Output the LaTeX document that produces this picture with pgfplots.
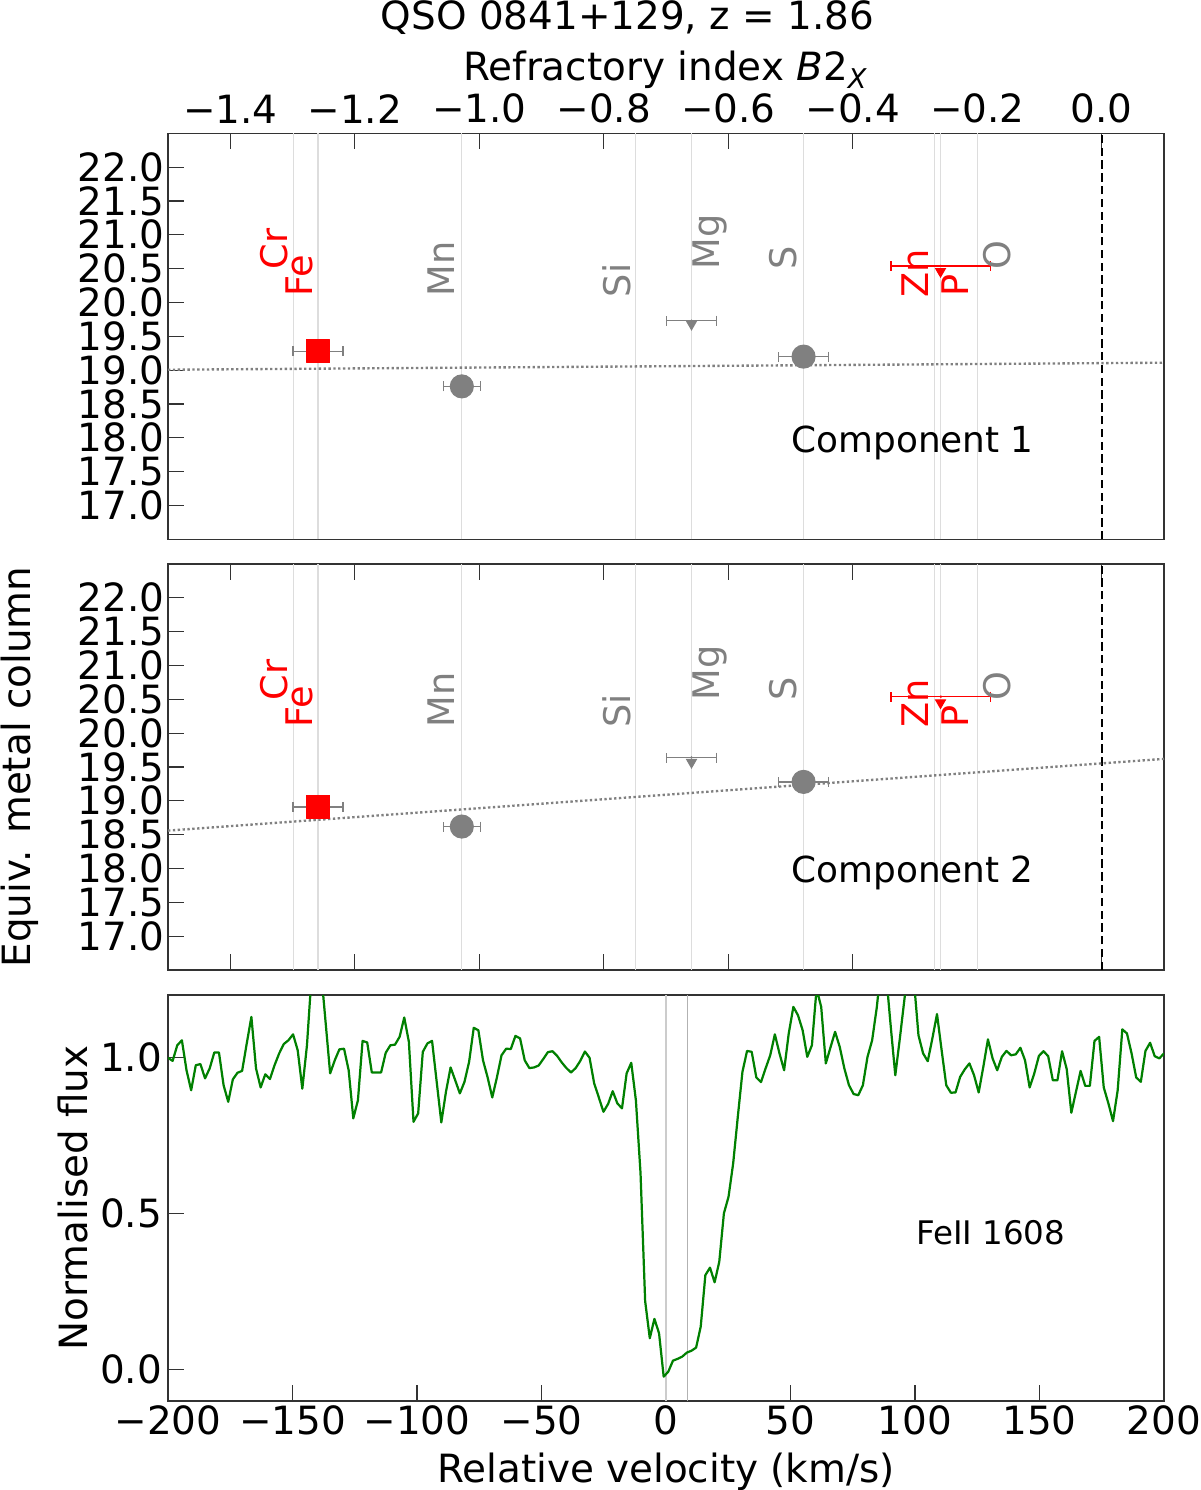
\documentclass[border=0pt]{standalone}
\usepackage{fontspec}
\setmainfont{DejaVu Sans}
\usepackage{pgfplots}
\pgfplotsset{compat=1.18}
\definecolor{mgray}{RGB}{128,128,128}
\definecolor{vlc}{RGB}{221,221,221}
\definecolor{mgreen}{RGB}{0,128,0}
\definecolor{mred}{RGB}{255,0,0}
\newcommand{\tickfont}{\fontsize{14}{16}\selectfont}
\newcommand{\elfont}{\fontsize{13.2}{15}\selectfont}
\pgfplotsset{
  base/.style={
    scale only axis, width=358.56pt, height=146.16pt,
    axis line style={black!80, line width=0.55pt},
    major tick style={black!80, line width=0.45pt},
    major tick length=5.8pt,
    tick align=inside,
    ticklabel style={font=\tickfont},
    label style={font=\tickfont},
    clip=true,
  },
  b2panel/.style={base,
    xmin=-1.5, xmax=0.1, ymin=16.5, ymax=22.5,
    xtick={-1.4,-1.2,-1.0,-0.8,-0.6,-0.4,-0.2,0},
    ytick={17,17.5,18,18.5,19,19.5,20,20.5,21,21.5,22},
    yticklabels={17.0,17.5,18.0,18.5,19.0,19.5,20.0,20.5,21.0,21.5,22.0},
    ytick pos=left,
    yticklabel style={xshift=2.15pt},
  },
  vl/.style={vlc, line width=0.4pt},
  ebg/.style={mgray, only marks, error bars/x dir=both, error bars/x explicit,
     error bars/error mark=|,
     error bars/error bar style={mgray, solid, line width=0.45pt},
     error bars/error mark options={mgray, mark size=1.8pt, line width=0.45pt}},
  ebr/.style={mred, only marks, error bars/x dir=both, error bars/x explicit,
     error bars/error mark=|,
     error bars/error bar style={mred, solid, line width=0.6pt},
     error bars/error mark options={mred, mark size=1.8pt, line width=0.6pt}},
  fit/.style={mgray, line width=0.85pt, dash pattern=on 0.85pt off 0.9pt},
}
\newcommand{\elementlines}{%
  \addplot[vl] coordinates {(-1.299,16.5) (-1.299,22.5)};
  \addplot[vl] coordinates {(-1.259,16.5) (-1.259,22.5)};
  \addplot[vl] coordinates {(-1.028,16.5) (-1.028,22.5)};
  \addplot[vl] coordinates {(-0.749,16.5) (-0.749,22.5)};
  \addplot[vl] coordinates {(-0.659,16.5) (-0.659,22.5)};
  \addplot[vl] coordinates {(-0.479,16.5) (-0.479,22.5)};
  \addplot[vl] coordinates {(-0.269,16.5) (-0.269,22.5)};
  \addplot[vl] coordinates {(-0.259,16.5) (-0.259,22.5)};
  \addplot[vl] coordinates {(-0.199,16.5) (-0.199,22.5)};
  \addplot[black, line width=0.7pt, dash pattern=on 3pt off 1.6pt] coordinates {(0,16.5) (0,22.5)};
}
\newcommand{\ellab}[4]{\node[rotate=90, anchor=base west, inner sep=0pt, text=#1, font=\elfont] at (axis cs:#2,#3) {#4};}
\newcommand{\elementlabels}{%
  \ellab{mred}{-1.3084}{20.48}{Cr}
  \ellab{mred}{-1.2675}{20.08}{Fe}
  \ellab{mgray}{-1.039}{20.08}{Mn}
  \ellab{mgray}{-0.7578}{20.07}{Si}
  \ellab{mgray}{-0.6133}{20.48}{Mg}
  \ellab{mgray}{-0.4896}{20.48}{S}
  \ellab{mred}{-0.2786}{20.07}{Zn}
  \ellab{mred}{-0.2144}{20.08}{P}
  \ellab{mgray}{-0.1458}{20.48}{O}
}
\begin{document}
\begin{tikzpicture}
\path[use as bounding box] (-60.48pt,-32.04pt) rectangle (371.52pt,504.36pt);

\node[anchor=base, font=\tickfont, inner sep=0pt] at (165.42pt,493.56pt) {QSO 0841+129, z = 1.86};

% ---------------- Panel 1 ----------------
\begin{axis}[b2panel, at={(0,310.21pt)},
  xtick pos=right, xticklabel pos=right,
  xticklabels={−1.4,−1.2,−1.0,−0.8,−0.6,−0.4,−0.2,0.0},
  xlabel={Refractory index \textit{B}2\raisebox{-2.9pt}{\fontsize{9.8}{10}\selectfont\textit{X}}},
  xlabel style={at={(axis description cs:0.499,1)}, anchor=base, yshift=19.19pt},
]
\elementlines
\addplot[fit] coordinates {(-1.5,19.006) (0.1,19.11)};
\addplot[ebg, mark=square*, mark size=4.14pt, mark options={fill=mred, draw=mred, line join=round}] coordinates {(-1.259,19.28) +- (0.04,0)};
\addplot[ebg, mark=*, mark size=4.14pt, mark options={fill=mgray, draw=mgray}] coordinates {(-1.028,18.76) +- (0.03,0) (-0.479,19.20) +- (0.04,0)};
\addplot[ebg, mark=*, mark size=0.2pt] coordinates {(-0.659,19.73) +- (0.04,0)};
\addplot[only marks, mark=triangle*, mark size=2.0pt, mark options={rotate=180, fill=mgray, draw=mgray}] coordinates {(-0.659,19.68)};
\addplot[ebr, mark=*, mark size=0.2pt] coordinates {(-0.2585,20.54) +- (0.08,0)};
\addplot[only marks, mark=triangle*, mark size=2.0pt, mark options={rotate=180, fill=mred, draw=mred}] coordinates {(-0.259,20.46)};
\elementlabels
\node[anchor=base, font=\fontsize{12.9}{14}\selectfont] at (axis cs:-0.3037,17.785) {Component 1};
\end{axis}

% ---------------- Panel 2 ----------------
\begin{axis}[b2panel, at={(0,155.16pt)},
  xtick pos=both, xticklabels={},
  ylabel={Equiv. metal column},
  ylabel style={at={(axis description cs:-0.1376,0.5)}, anchor=base},
]
\elementlines
\addplot[fit] coordinates {(-1.5,18.56) (0.1,19.62)};
\addplot[ebg, mark=square*, mark size=4.14pt, mark options={fill=mred, draw=mred, line join=round}] coordinates {(-1.259,18.91) +- (0.04,0)};
\addplot[ebg, mark=*, mark size=4.14pt, mark options={fill=mgray, draw=mgray}] coordinates {(-1.028,18.62) +- (0.03,0) (-0.479,19.28) +- (0.04,0)};
\addplot[ebg, mark=*, mark size=0.2pt] coordinates {(-0.659,19.64) +- (0.04,0)};
\addplot[only marks, mark=triangle*, mark size=2.0pt, mark options={rotate=180, fill=mgray, draw=mgray}] coordinates {(-0.659,19.57)};
\addplot[ebr, mark=*, mark size=0.2pt] coordinates {(-0.2585,20.54) +- (0.08,0)};
\addplot[only marks, mark=triangle*, mark size=2.0pt, mark options={rotate=180, fill=mred, draw=mred}] coordinates {(-0.259,20.45)};
\elementlabels
\node[anchor=base, font=\fontsize{12.9}{14}\selectfont] at (axis cs:-0.3037,17.80) {Component 2};
\end{axis}

% ---------------- Panel 3 ----------------
\begin{axis}[base, at={(0,0)},
  xmin=-200, xmax=200, ymin=-0.1, ymax=1.2,
  xtick={-200,-150,-100,-50,0,50,100,150,200},
  xticklabels={−200,−150,−100,−50,0,50,100,150,200},
  ytick={0,0.5,1}, yticklabels={0.0,0.5,1.0},
  xtick pos=left, ytick pos=left,
  xticklabel style={yshift=1.8pt},
  yticklabel style={xshift=1.35pt},
  xlabel={Relative velocity (km/s)},
  xlabel style={at={(axis description cs:0.5,0)}, anchor=base, yshift=-29.16pt},
  ylabel={Normalised flux},
  ylabel style={at={(axis description cs:-0.0810,0.5)}, anchor=base},
]
\addplot[gray!40, line width=0.4pt] coordinates {(0,-0.1) (0,1.2)};
\addplot[gray!60, line width=0.4pt] coordinates {(8.6,-0.1) (8.6,1.2)};
\addplot[mgreen, line width=0.8pt, line join=round] table {
-200.00 0.999
-198.14 0.989
-196.28 1.039
-194.42 1.055
-192.56 0.959
-190.70 0.895
-188.84 0.975
-186.98 0.979
-185.12 0.933
-183.26 0.965
-181.40 1.016
-179.53 1.016
-177.67 0.911
-175.81 0.858
-173.95 0.930
-172.09 0.951
-170.23 0.957
-168.37 1.045
-166.51 1.130
-164.65 0.965
-162.79 0.904
-160.93 0.946
-159.07 0.931
-157.21 0.975
-155.35 1.013
-153.49 1.043
-151.63 1.055
-149.77 1.074
-147.91 1.023
-146.05 0.900
-144.19 1.039
-142.33 1.263
-140.47 1.350
-138.60 1.283
-136.74 1.116
-134.88 0.949
-133.02 0.991
-131.16 1.026
-129.30 1.028
-127.44 0.959
-125.58 0.805
-123.72 0.863
-121.86 1.053
-120.00 1.048
-118.14 0.952
-116.28 0.952
-114.42 0.952
-112.56 1.015
-110.70 1.039
-108.84 1.041
-106.98 1.066
-105.12 1.128
-103.26 1.050
-101.40 0.794
-99.53 0.821
-97.67 1.018
-95.81 1.045
-93.95 1.053
-92.09 0.922
-90.23 0.792
-88.37 0.890
-86.51 0.968
-84.65 0.927
-82.79 0.885
-80.93 0.922
-79.07 0.986
-77.21 1.095
-75.35 1.087
-73.49 0.991
-71.63 0.936
-69.77 0.872
-67.91 0.936
-66.05 1.007
-64.19 1.028
-62.33 1.027
-60.47 1.069
-58.60 1.061
-56.74 0.991
-54.88 0.966
-53.02 0.968
-51.16 0.974
-49.30 0.995
-47.44 1.017
-45.58 1.020
-43.72 1.005
-41.86 0.984
-40.00 0.966
-38.14 0.952
-36.28 0.966
-34.42 0.989
-32.56 1.019
-30.70 0.999
-28.84 0.917
-26.98 0.872
-25.12 0.826
-23.26 0.851
-21.40 0.892
-19.53 0.853
-17.67 0.837
-15.81 0.949
-13.95 0.983
-12.09 0.863
-10.23 0.630
-8.37 0.220
-6.51 0.101
-4.65 0.163
-2.79 0.117
-0.93 -0.022
0.93 -0.006
2.79 0.029
4.65 0.035
6.51 0.042
8.37 0.055
10.23 0.061
12.09 0.071
13.95 0.138
15.81 0.303
17.67 0.327
19.53 0.280
21.40 0.346
23.26 0.501
25.12 0.554
26.98 0.661
28.84 0.810
30.70 0.954
32.56 1.021
34.42 1.018
36.28 0.936
38.14 0.921
40.00 0.965
41.86 1.007
43.72 1.074
45.58 1.013
47.44 0.959
49.30 1.077
51.16 1.162
53.02 1.135
54.88 1.087
56.74 1.002
58.60 1.039
60.47 1.220
62.33 1.162
64.19 0.981
66.05 1.032
67.91 1.082
69.77 1.034
71.63 0.965
73.49 0.911
75.35 0.883
77.21 0.879
79.07 0.911
80.93 1.002
82.79 1.055
84.65 1.160
86.51 1.300
88.37 1.270
90.23 1.102
92.09 0.943
93.95 1.063
95.81 1.190
97.67 1.300
99.53 1.250
101.40 1.071
103.26 1.013
105.12 0.988
106.98 1.061
108.84 1.139
110.70 1.023
112.56 0.911
114.42 0.887
116.28 0.888
118.14 0.938
120.00 0.962
121.86 0.981
123.72 0.943
125.58 0.888
127.44 0.970
129.30 1.058
131.16 0.997
133.02 0.959
134.88 1.002
136.74 1.021
138.60 1.007
140.47 1.010
142.33 1.031
144.19 0.991
146.05 0.904
147.91 0.949
149.77 1.005
151.63 1.020
153.49 1.004
155.35 0.927
157.21 0.927
159.07 1.020
160.93 0.963
162.79 0.823
164.65 0.890
166.51 0.957
168.37 0.909
170.23 0.909
172.09 1.053
173.95 1.066
175.81 0.904
177.67 0.853
179.53 0.796
181.40 0.895
183.26 1.090
185.12 1.077
186.98 1.013
188.84 0.936
190.70 0.922
192.56 1.021
194.42 1.047
196.28 1.004
198.14 0.997
200.00 1.013
};
\node[anchor=base, font=\fontsize{11.7}{13}\selectfont] at (axis cs:130.4,0.40) {FeII 1608};
\end{axis}
\end{tikzpicture}
\end{document}
